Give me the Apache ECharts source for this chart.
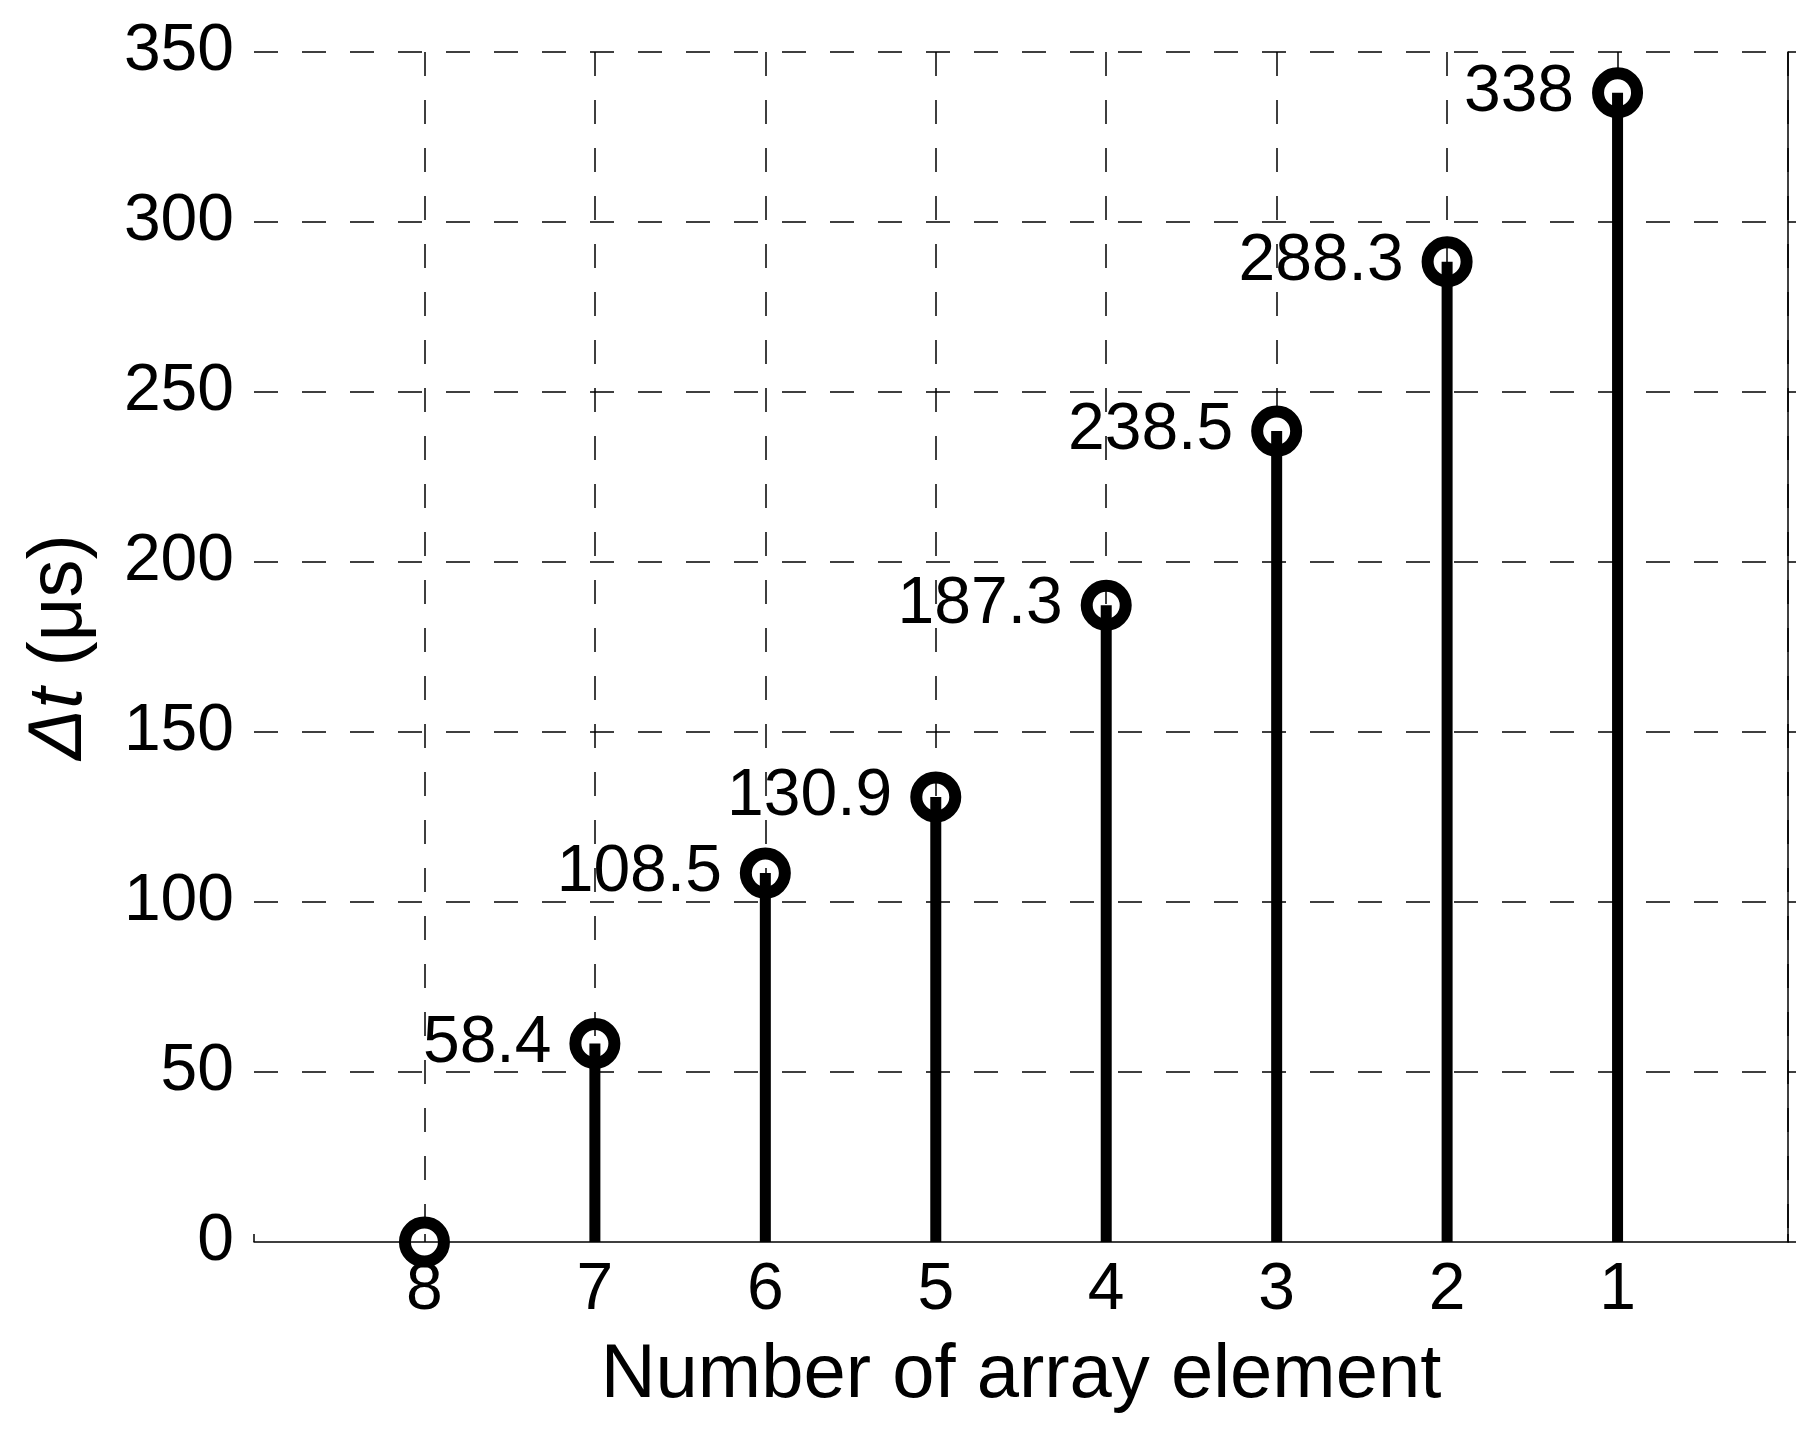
<!DOCTYPE html>
<html>
<head>
<meta charset="utf-8">
<script src="https://cdn.jsdelivr.net/npm/echarts@6/dist/echarts.min.js"></script>
<style>
html,body{margin:0;padding:0;background:#fff;}
#chart{width:1820px;height:1445px;}
</style>
</head>
<body>
<div id="chart"></div>
<script>
const elements = [8, 7, 6, 5, 4, 3, 2, 1];
const deltaT = [0, 58.4, 108.5, 130.9, 187.3, 238.5, 288.3, 338];
const labels = ['', '58.4', '108.5', '130.9', '187.3', '238.5', '288.3', '338'];
const yTicks = [0, 50, 100, 150, 200, 250, 300, 350];

const pts = elements.map((e, i) => [e, deltaT[i]]);
const FONT = 'Liberation Sans, Arial, sans-serif';

const chart = echarts.init(document.getElementById('chart'), null, {renderer: 'canvas'});
chart.setOption({
  backgroundColor: '#fff',
  animation: false,
  grid: {left: 254, right: 32, top: 52, bottom: 203, containLabel: false},
  xAxis: {
    type: 'value', min: 0, max: 9, interval: 1, inverse: true,
    name: 'Number of array element', nameLocation: 'middle', nameGap: 96,
    nameTextStyle: {fontFamily: FONT, fontSize: 76, color: '#000'},
    axisLine: {show: true, onZero: false, lineStyle: {color: '#000', width: 1.5}},
    axisTick: {show: true, inside: true, length: 8, lineStyle: {color: '#000', width: 1.5}},
    axisLabel: {
      fontFamily: FONT, fontSize: 66, color: '#000', margin: 16,
      formatter: v => (v >= 1 && v <= 8) ? String(v) : ''
    },
    splitLine: {show: true, showMaxLine: false, lineStyle: {color: '#000', width: 1.5, type: [24, 24]}}
  },
  yAxis: {
    type: 'value', min: 0, max: 350, interval: 50,
    name: '{i|Δt} (μs)', nameLocation: 'middle', nameGap: 156,
    nameTextStyle: {fontFamily: FONT, fontSize: 76, color: '#000',
      rich: {i: {fontFamily: FONT, fontSize: 76, fontStyle: 'italic', color: '#000'}}},
    axisLine: {show: true, lineStyle: {color: '#000', width: 1.5}},
    axisTick: {show: true, inside: true, length: 8, lineStyle: {color: '#000', width: 1.5}},
    axisLabel: {
      fontFamily: FONT, fontSize: 66, color: '#000', margin: 20,
      formatter: v => yTicks.includes(v) ? String(v) : ''
    },
    splitLine: {show: true, showMinLine: false, lineStyle: {color: '#000', width: 1.5, type: [24, 24]}}
  },
  series: [
    {
      type: 'bar', data: pts, barWidth: 11,
      itemStyle: {color: '#000'}, z: 2
    },
    {
      type: 'line', data: pts, showSymbol: true,
      lineStyle: {width: 0, opacity: 0},
      symbol: 'circle', symbolSize: 39,
      itemStyle: {color: 'rgba(0,0,0,0)', borderColor: '#000', borderWidth: 12},
      label: {
        show: true, position: 'left', distance: 18,
        fontFamily: FONT, fontSize: 66, color: '#000',
        formatter: p => labels[p.dataIndex]
      },
      z: 3
    }
  ]
});
</script>
</body>
</html>
